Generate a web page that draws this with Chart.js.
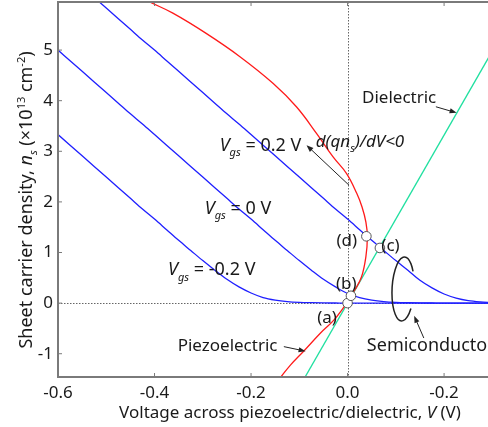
<!DOCTYPE html>
<html>
<head>
<meta charset="utf-8">
<script src="https://cdn.jsdelivr.net/npm/chart.js@4.4.1/dist/chart.umd.min.js"></script>
<style>
  html, body { margin: 0; padding: 0; background: #fff; }
  #wrap { width: 488px; height: 427px; }
</style>
</head>
<body>
<div id="wrap"><canvas id="c"></canvas></div>
<script>
// voltage grid for the semiconductor curves (V)
const vGrid = [-0.6, -0.575, -0.55, -0.525, -0.5, -0.475, -0.45, -0.425, -0.4, -0.375, -0.35, -0.325,
  -0.3, -0.275, -0.25, -0.225, -0.2, -0.175, -0.15, -0.125, -0.1, -0.075, -0.05, -0.025,
  0, 0.025, 0.05, 0.075, 0.1, 0.125, 0.15, 0.175, 0.2, 0.225, 0.25, 0.275, 0.3];

// sheet density n_s (x1e13 cm^-2) for each Vgs
const nsVgsM02 = [3.33, 3.12, 2.91, 2.70, 2.49, 2.28, 2.07, 1.86, 1.66, 1.45, 1.24, 1.04,
  0.84, 0.65, 0.47, 0.32, 0.20, 0.11, 0.06, 0.03, 0.015, 0.008, 0.004, 0.002,
  0, 0, 0, 0, 0, 0, 0, 0, 0, 0, 0, 0, 0];
const nsVgs0 = [5.00, 4.79, 4.58, 4.37, 4.16, 3.95, 3.74, 3.54, 3.33, 3.12, 2.91, 2.70,
  2.49, 2.28, 2.07, 1.86, 1.66, 1.45, 1.24, 1.04, 0.84, 0.65, 0.47, 0.32,
  0.19, 0.11, 0.06, 0.03, 0.015, 0.008, 0.004, 0.002, 0, 0, 0, 0, 0];
const nsVgs02 = [6.67, 6.46, 6.25, 6.04, 5.83, 5.62, 5.41, 5.20, 5.00, 4.79, 4.58, 4.37,
  4.16, 3.95, 3.74, 3.54, 3.33, 3.12, 2.91, 2.70, 2.49, 2.28, 2.07, 1.86,
  1.66, 1.45, 1.24, 1.04, 0.84, 0.65, 0.45, 0.30, 0.18, 0.10, 0.05, 0.025, 0.012];

// piezoelectric curve (nose shaped)
const piezoV = [-0.44, -0.41, -0.362, -0.293, -0.223, -0.154, -0.106, -0.064, -0.030, -0.002, 0.019,
  0.030, 0.038, 0.041, 0.038, 0.029, 0.015, 0.005, -0.002, -0.028, -0.056, -0.091, -0.118, -0.139, -0.15];
const piezoNs = [6.10, 5.95, 5.73, 5.33, 4.87, 4.34, 3.88, 3.35, 2.89, 2.56, 2.17,
  1.90, 1.60, 1.31, 0.92, 0.52, 0.26, 0.12, 0.0, -0.33, -0.59, -0.95, -1.22, -1.47, -1.60];

// dielectric line
const dielV = [-0.1, 0.3];
const dielNs = [-1.66, 4.98];

// operating points (a)-(d)
const markV = [0, 0.007, 0.067, 0.039];
const markNs = [0, 0.145, 1.09, 1.32];
const markLabels = ["(a)", "(b)", "(c)", "(d)"];

const xTicks = [-0.6, -0.4, -0.2, 0, 0.2];
const xTickLabels = ["-0.6", "-0.4", "-0.2", "0.0", "-0.2"];
const yTicks = [-1, 0, 1, 2, 3, 4, 5];

const FONT = "'Noto Sans', 'Open Sans', sans-serif";
const TXT = "#1a1a1a";

const pts = (xs, ys) => xs.map((x, i) => ({ x: x, y: ys[i] }));

// draws text made of pieces (italic / sub / sup)
function rich(ctx, segs, x, y, size, align) {
  const fontOf = s => (s.i ? "italic " : "") + ((s.sub || s.sup) ? Math.round(size * 0.62) : size) + "px " + FONT;
  let w = 0;
  segs.forEach(s => { ctx.font = fontOf(s); w += ctx.measureText(s.t).width; });
  let cx = align === "center" ? x - w / 2 : x;
  ctx.textAlign = "left";
  segs.forEach(s => {
    ctx.font = fontOf(s);
    const dy = s.sub ? size * 0.3 : (s.sup ? -size * 0.38 : 0);
    ctx.fillText(s.t, cx, y + dy);
    cx += ctx.measureText(s.t).width;
  });
}

function arrow(ctx, x1, y1, x2, y2) {
  const a = Math.atan2(y2 - y1, x2 - x1);
  ctx.beginPath();
  ctx.moveTo(x1, y1);
  ctx.lineTo(x2 - 5 * Math.cos(a), y2 - 5 * Math.sin(a));
  ctx.stroke();
  ctx.beginPath();
  ctx.moveTo(x2, y2);
  ctx.lineTo(x2 - 7 * Math.cos(a) + 2.6 * Math.sin(a), y2 - 7 * Math.sin(a) - 2.6 * Math.cos(a));
  ctx.lineTo(x2 - 7 * Math.cos(a) - 2.6 * Math.sin(a), y2 - 7 * Math.sin(a) + 2.6 * Math.cos(a));
  ctx.closePath();
  ctx.fill();
}

const decor = {
  id: "decor",
  beforeDatasetsDraw(chart) {
    const { ctx, chartArea: a, scales: { x, y } } = chart;
    ctx.save();
    ctx.strokeStyle = "#666";
    ctx.lineWidth = 1;
    ctx.setLineDash([1.5, 1.5]);
    ctx.beginPath();
    ctx.moveTo(a.left, Math.round(y.getPixelForValue(0)) + 0.5);
    ctx.lineTo(a.right, Math.round(y.getPixelForValue(0)) + 0.5);
    ctx.moveTo(Math.round(x.getPixelForValue(0)) + 0.5, a.top);
    ctx.lineTo(Math.round(x.getPixelForValue(0)) + 0.5, a.bottom);
    ctx.stroke();
    ctx.restore();
  },
  afterDatasetsDraw(chart) {
    const { ctx, chartArea: a, scales: { x, y } } = chart;
    const px = v => x.getPixelForValue(v);
    const py = v => y.getPixelForValue(v);
    ctx.save();

    // frame + inward ticks
    ctx.strokeStyle = "#7a7a7a";
    ctx.lineWidth = 2;
    ctx.beginPath();
    ctx.moveTo(a.right + 2, a.top);
    ctx.lineTo(a.left, a.top);
    ctx.lineTo(a.left, a.bottom);
    ctx.lineTo(a.right + 2, a.bottom);
    ctx.stroke();
    ctx.lineWidth = 1;
    ctx.beginPath();
    xTicks.forEach(v => {
      ctx.moveTo(px(v), a.bottom); ctx.lineTo(px(v), a.bottom - 4);
      ctx.moveTo(px(v), a.top); ctx.lineTo(px(v), a.top + 4);
    });
    yTicks.forEach(v => { ctx.moveTo(a.left, py(v)); ctx.lineTo(a.left + 4, py(v)); });
    ctx.stroke();

    // annotation text
    ctx.fillStyle = TXT;
    ctx.textBaseline = "alphabetic";
    rich(ctx, [{ t: "V", i: true }, { t: "gs", i: true, sub: true }, { t: " = 0.2 V" }], px(-0.265), py(3.01), 18);
    rich(ctx, [{ t: "V", i: true }, { t: "gs", i: true, sub: true }, { t: " = 0 V" }], px(-0.296), py(1.77), 18);
    rich(ctx, [{ t: "V", i: true }, { t: "gs", i: true, sub: true }, { t: " = -0.2 V" }], px(-0.372), py(0.55), 18);
    rich(ctx, [{ t: "d(qn", i: true }, { t: "s", i: true, sub: true }, { t: ")/dV<0", i: true }], px(-0.066), py(3.09), 17);
    rich(ctx, [{ t: "Dielectric" }], px(0.030), py(3.95), 17);
    rich(ctx, [{ t: "Piezoelectric" }], px(-0.352), py(-0.955), 17);
    rich(ctx, [{ t: "Semiconductor" }], px(0.040), py(-0.955), 18);
    const labPos = [[-0.063, -0.40], [-0.024, 0.28], [0.070, 1.03], [-0.023, 1.13]];
    markLabels.forEach((t, i) => rich(ctx, [{ t: t }], px(labPos[i][0]), py(labPos[i][1]), 17));

    // arrows
    ctx.strokeStyle = "#222";
    ctx.fillStyle = "#222";
    ctx.lineWidth = 1;
    arrow(ctx, px(0.183), py(3.88), px(0.226), py(3.76));
    arrow(ctx, px(0.003), py(2.33), px(-0.085), py(3.12));
    arrow(ctx, px(-0.132), py(-0.86), px(-0.087), py(-0.95));
    arrow(ctx, px(0.158), py(-0.69), px(0.138), py(-0.25));

    // loop around the semiconductor curves
    ctx.lineWidth = 1.5;
    ctx.beginPath();
    ctx.ellipse(px(0.115), py(0.28), 11, 32, 0.05, 0.64, 2 * Math.PI - 0.6);
    ctx.stroke();

    // axis titles
    ctx.fillStyle = TXT;
    rich(ctx, [{ t: "Voltage across piezoelectric/dielectric, " }, { t: "V", i: true }, { t: " (V)" }], 290, 418, 17, "center");
    ctx.translate(32, 200);
    ctx.rotate(-Math.PI / 2);
    rich(ctx, [{ t: "Sheet carrier density, " }, { t: "n", i: true }, { t: "s", i: true, sub: true },
      { t: " (×10" }, { t: "13", sup: true }, { t: " cm" }, { t: "-2", sup: true }, { t: ")" }], 0, 0, 18, "center");
    ctx.restore();
  }
};

const line = (data, color, extra) => Object.assign({
  type: "scatter", data: data, showLine: true, borderColor: color, borderWidth: 1.3,
  pointRadius: 0, pointHoverRadius: 0, fill: false, order: 2
}, extra || {});

const noPad = s => { s.paddingTop = 0; s.paddingBottom = 0; s.paddingLeft = 0; s.paddingRight = 0; };

new Chart(document.getElementById("c"), {
  type: "scatter",
  data: {
    datasets: [
      {
        type: "scatter", data: pts(markV, markNs), pointRadius: 4.8, pointHoverRadius: 4.8,
        pointBackgroundColor: "#fff", pointBorderColor: "#555", pointBorderWidth: 1,
        showLine: false, order: 0
      },
      line(pts(dielV, dielNs), "#20e0a0", { order: 3 }),
      line(pts(piezoV, piezoNs), "#ff1a1a", { tension: 0.4, order: 2 }),
      line(pts(vGrid, nsVgs02), "#1f1fff", { cubicInterpolationMode: "monotone", order: 1 }),
      line(pts(vGrid, nsVgs0), "#1f1fff", { cubicInterpolationMode: "monotone", order: 1 }),
      line(pts(vGrid, nsVgsM02), "#1f1fff", { cubicInterpolationMode: "monotone", order: 1 })
    ]
  },
  options: {
    responsive: true,
    maintainAspectRatio: false,
    animation: false,
    devicePixelRatio: 1,
    layout: { autoPadding: false, padding: { top: 2, right: 0, left: 0, bottom: 0 } },
    plugins: { legend: { display: false }, tooltip: { enabled: false } },
    scales: {
      x: {
        type: "linear", min: -0.6, max: 0.291,
        afterBuildTicks: s => { s.ticks = xTicks.map(v => ({ value: v })); },
        afterFit: s => { s.height = 50; noPad(s); },
        grid: { display: false, drawTicks: false, tickLength: 0 }, border: { display: false },
        ticks: {
          callback: (v, i) => xTickLabels[i], color: TXT, padding: 6,
          maxRotation: 0, autoSkip: false, font: { family: FONT, size: 17 }
        }
      },
      y: {
        type: "linear", min: -1.46, max: 5.95,
        afterBuildTicks: s => { s.ticks = yTicks.map(v => ({ value: v })); },
        afterFit: s => { s.width = 58; noPad(s); },
        grid: { display: false, drawTicks: false, tickLength: 0 }, border: { display: false },
        ticks: { color: TXT, padding: 5, font: { family: FONT, size: 17 } }
      }
    }
  },
  plugins: [decor]
});
</script>
</body>
</html>
